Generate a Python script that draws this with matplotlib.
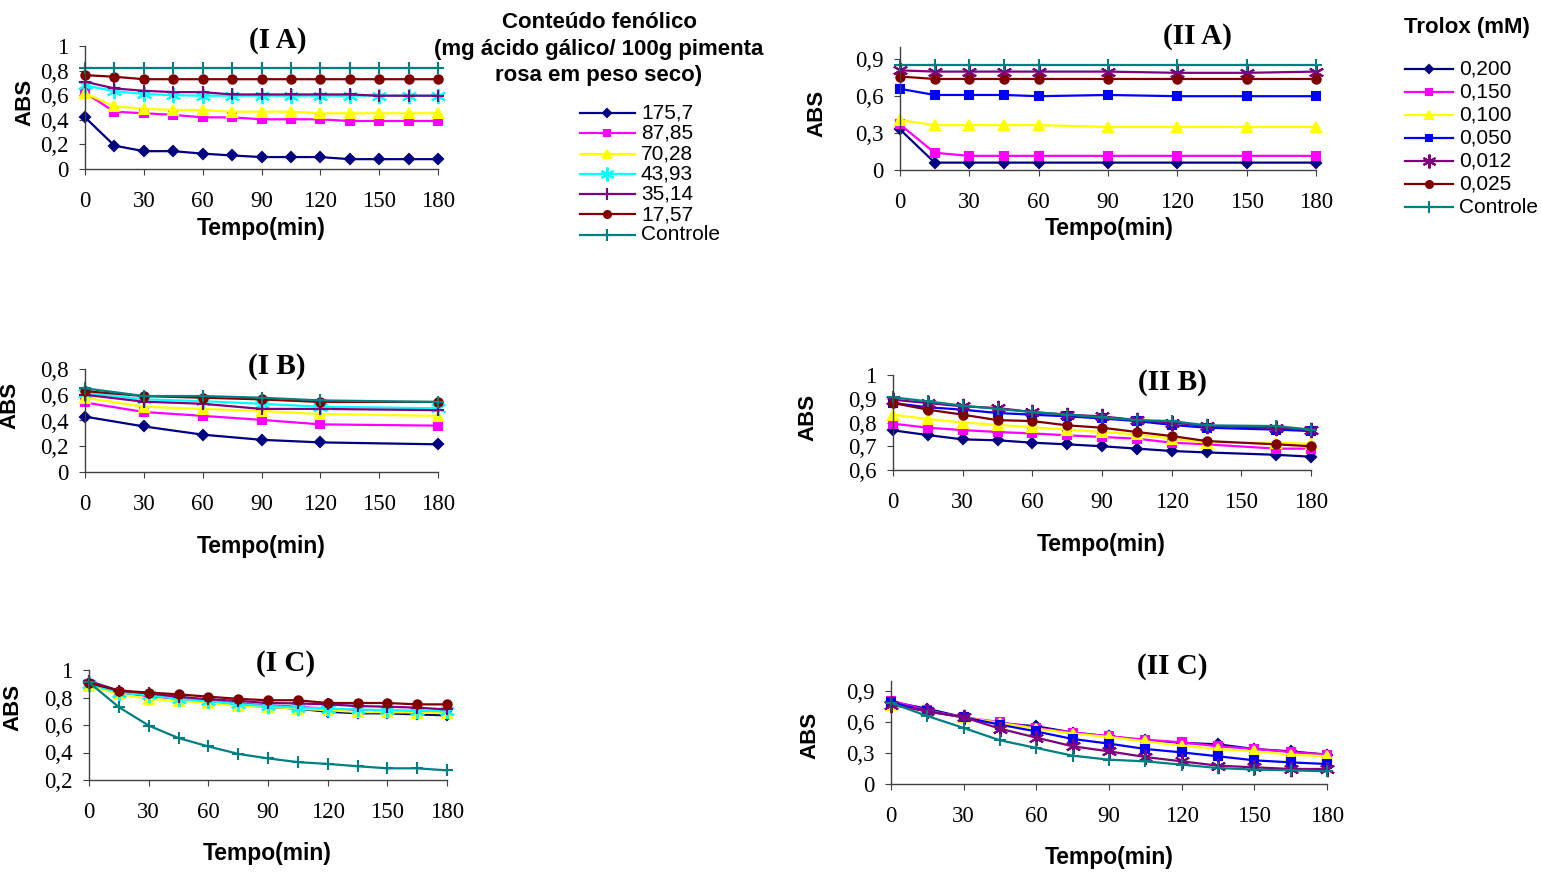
import matplotlib
matplotlib.use('Agg')
import matplotlib.pyplot as plt

W, H = 1541, 872

# cores e marcadores (padrao Excel)
navy, magenta, yellow, cyan = '#000080', '#FF00FF', '#FFFF00', '#00FFFF'
purple, darkred, teal, blue = '#800080', '#800000', '#008080', '#0000FF'
asterisk = (6, 2, 0)

labels_I = ['175,7', '87,85', '70,28', '43,93', '35,14', '17,57', 'Controle']
colors_I = [navy, magenta, yellow, cyan, purple, darkred, teal]
markers_I = ['D', 's', '^', asterisk, '+', 'o', '+']

labels_II = ['0,200', '0,150', '0,100', '0,050', '0,012', '0,025', 'Controle']
colors_II = [navy, magenta, yellow, blue, purple, darkred, teal]
markers_II = ['D', 's', '^', 's', asterisk, 'o', '+']

# ---- dados ----
t_IA = [0, 15, 30, 45, 60, 75, 90, 105, 120, 135, 150, 165, 180]
IA = [
    [0.42, 0.19, 0.145, 0.145, 0.125, 0.11, 0.097, 0.097, 0.097, 0.08, 0.08, 0.08, 0.08],
    [0.62, 0.466, 0.453, 0.44, 0.42, 0.42, 0.404, 0.404, 0.404, 0.39, 0.39, 0.39, 0.39],
    [0.615, 0.51, 0.49, 0.48, 0.48, 0.466, 0.466, 0.466, 0.453, 0.453, 0.453, 0.453, 0.453],
    [0.68, 0.633, 0.61, 0.60, 0.596, 0.596, 0.596, 0.596, 0.596, 0.596, 0.596, 0.596, 0.596],
    [0.71, 0.655, 0.636, 0.625, 0.625, 0.606, 0.606, 0.606, 0.606, 0.606, 0.596, 0.596, 0.596],
    [0.763, 0.75, 0.73, 0.73, 0.73, 0.73, 0.73, 0.73, 0.73, 0.73, 0.73, 0.73, 0.73],
    [0.82, 0.82, 0.82, 0.82, 0.82, 0.82, 0.82, 0.82, 0.82, 0.82, 0.82, 0.82, 0.82],
]

t_IB = [0, 30, 60, 90, 120, 180]
IB = [
    [0.43, 0.354, 0.29, 0.25, 0.23, 0.215],
    [0.54, 0.466, 0.436, 0.405, 0.37, 0.36],
    [0.577, 0.507, 0.49, 0.474, 0.45, 0.436],
    [0.615, 0.565, 0.55, 0.53, 0.507, 0.495],
    [0.60, 0.546, 0.53, 0.49, 0.49, 0.48],
    [0.628, 0.59, 0.577, 0.564, 0.544, 0.544],
    [0.65, 0.59, 0.59, 0.577, 0.556, 0.544],
]

t_IC = [0, 15, 30, 45, 60, 75, 90, 105, 120, 135, 150, 165, 180]
IC = [
    [0.905, 0.84, 0.816, 0.79, 0.766, 0.743, 0.733, 0.718, 0.697, 0.685, 0.685, 0.677, 0.67],
    [0.897, 0.836, 0.81, 0.79, 0.775, 0.757, 0.743, 0.733, 0.718, 0.708, 0.705, 0.694, 0.69],
    [0.885, 0.823, 0.79, 0.775, 0.76, 0.738, 0.733, 0.718, 0.708, 0.694, 0.694, 0.69, 0.685],
    [0.897, 0.836, 0.816, 0.79, 0.775, 0.75, 0.738, 0.726, 0.72, 0.713, 0.708, 0.705, 0.70],
    [0.92, 0.85, 0.83, 0.805, 0.787, 0.775, 0.76, 0.757, 0.75, 0.738, 0.733, 0.726, 0.713],
    [0.905, 0.85, 0.836, 0.823, 0.806, 0.79, 0.78, 0.78, 0.76, 0.76, 0.76, 0.75, 0.75],
    [0.91, 0.73, 0.596, 0.505, 0.444, 0.39, 0.357, 0.33, 0.317, 0.30, 0.285, 0.285, 0.27],
]

t_IIA = [0, 15, 30, 45, 60, 90, 120, 150, 180]
IIA = [
    [0.33, 0.06, 0.06, 0.06, 0.06, 0.06, 0.06, 0.06, 0.06],
    [0.37, 0.14, 0.115, 0.115, 0.115, 0.115, 0.115, 0.115, 0.115],
    [0.405, 0.365, 0.365, 0.365, 0.365, 0.35, 0.35, 0.35, 0.35],
    [0.66, 0.61, 0.61, 0.61, 0.60, 0.61, 0.60, 0.60, 0.60],
    [0.81, 0.80, 0.80, 0.80, 0.80, 0.80, 0.79, 0.79, 0.80],
    [0.76, 0.74, 0.74, 0.74, 0.74, 0.74, 0.74, 0.74, 0.74],
    [0.85, 0.85, 0.85, 0.85, 0.85, 0.85, 0.85, 0.85, 0.85],
]

t_IIB = [0, 15, 30, 45, 60, 75, 90, 105, 120, 135, 165, 180]
IIB = [
    [0.767, 0.747, 0.729, 0.725, 0.715, 0.708, 0.70, 0.69, 0.68, 0.674, 0.664, 0.656],
    [0.795, 0.778, 0.768, 0.76, 0.754, 0.746, 0.739, 0.732, 0.715, 0.708, 0.69, 0.69],
    [0.833, 0.815, 0.80, 0.79, 0.78, 0.77, 0.76, 0.75, 0.732, 0.715, 0.715, 0.71],
    [0.882, 0.864, 0.854, 0.84, 0.833, 0.826, 0.817, 0.806, 0.79, 0.778, 0.77, 0.764],
    [0.896, 0.882, 0.868, 0.861, 0.844, 0.833, 0.826, 0.81, 0.80, 0.785, 0.778, 0.768],
    [0.882, 0.854, 0.833, 0.81, 0.806, 0.788, 0.778, 0.76, 0.743, 0.722, 0.708, 0.70],
    [0.906, 0.889, 0.871, 0.857, 0.844, 0.833, 0.822, 0.81, 0.806, 0.788, 0.785, 0.77],
]

t_IIC = [0, 15, 30, 45, 60, 75, 90, 105, 120, 135, 150, 165, 180]
IIC = [
    [0.80, 0.73, 0.648, 0.59, 0.56, 0.50, 0.463, 0.424, 0.40, 0.385, 0.34, 0.317, 0.285],
    [0.81, 0.715, 0.648, 0.60, 0.544, 0.50, 0.463, 0.43, 0.405, 0.366, 0.34, 0.31, 0.285],
    [0.77, 0.706, 0.648, 0.592, 0.537, 0.49, 0.456, 0.414, 0.372, 0.34, 0.317, 0.285, 0.27],
    [0.793, 0.706, 0.648, 0.576, 0.51, 0.437, 0.392, 0.34, 0.307, 0.269, 0.23, 0.21, 0.194],
    [0.77, 0.704, 0.648, 0.537, 0.45, 0.366, 0.317, 0.262, 0.22, 0.178, 0.162, 0.146, 0.146],
    None,
    [0.787, 0.66, 0.544, 0.424, 0.35, 0.275, 0.236, 0.22, 0.188, 0.155, 0.14, 0.133, 0.123],
]

plt.rcParams['font.family'] = 'Liberation Serif'
fig = plt.figure(figsize=(W / 100, H / 100), dpi=100)


def fx(x):
    return x / W


def fy(y):
    return 1 - y / H


def marker_size(m):
    if m == asterisk:
        return 11
    if m == '+':
        return 9
    if m in ('s', 'o'):
        return 6
    if m == 'D':
        return 5.5
    return 7


# camada de fundo para as legendas
lg = fig.add_axes([0, 0, 1, 1])
lg.set_xlim(0, W)
lg.set_ylim(H, 0)
lg.axis('off')


def painel(box, t, series, colors, markers, ylim, yticks, ylabels, title, title_xy, abs_xy, tempo_xy):
    left, top, right, bottom = box
    ax = fig.add_axes([fx(left), fy(bottom), fx(right - left), (bottom - top) / H])
    for s, c, m in zip(series, colors, markers):
        if s is None:
            continue
        ax.plot(t, s, color=c, lw=1.6, marker=m, ms=marker_size(m),
                mec=c, mfc=c, mew=1.5, clip_on=False)
    ax.set_xlim(0, 180)
    ax.set_ylim(*ylim)
    ax.set_xticks(range(0, 181, 30))
    ax.set_yticks(yticks)
    ax.set_yticklabels(ylabels)
    for sp in ['top', 'right']:
        ax.spines[sp].set_visible(False)
    for sp in ['left', 'bottom']:
        ax.spines[sp].set_color('#404040')
        ax.spines[sp].set_linewidth(1.0)
    ax.patch.set_visible(False)
    ax.tick_params(axis='x', length=4, pad=12, labelsize=16.5, color='#404040')
    ax.tick_params(axis='y', length=4, pad=8, labelsize=16.5, color='#404040')
    fig.text(fx(title_xy[0]), fy(title_xy[1]), title, ha='center', va='center',
             fontsize=21, fontweight='bold')
    fig.text(fx(abs_xy[0]), fy(abs_xy[1]), 'ABS', ha='center', va='center', rotation=90,
             fontsize=16, fontweight='bold', family='Liberation Sans')
    fig.text(fx(tempo_xy[0]), fy(tempo_xy[1]), 'Tempo(min)', ha='center', va='center',
             fontsize=16.5, fontweight='bold', family='Liberation Sans')
    return ax


yl_1 = ['0', '0,2', '0,4', '0,6', '0,8', '1']
yl_03 = ['0', '0,3', '0,6', '0,9']

painel((85, 46, 438, 169), t_IA, IA, colors_I, markers_I, (0, 1),
       [0, 0.2, 0.4, 0.6, 0.8, 1], yl_1, '(I A)', (278, 41), (25, 102), (261, 228))
painel((85, 369, 438, 472), t_IB, IB, colors_I, markers_I, (0, 0.8),
       [0, 0.2, 0.4, 0.6, 0.8], yl_1[:5], '(I B)', (277, 366), (10, 405), (261, 546))
painel((89, 670, 447, 780), t_IC, IC, colors_I, markers_I, (0.2, 1),
       [0.2, 0.4, 0.6, 0.8, 1], yl_1[1:], '(I C)', (286, 663), (13, 707), (267, 853))
painel((900, 47, 1316, 170), t_IIA, IIA, colors_II, markers_II, (0, 1),
       [0, 0.3, 0.6, 0.9], yl_03, '(II A)', (1197, 37), (817, 113), (1109, 228))
painel((893, 375, 1311, 470), t_IIB, IIB, colors_II, markers_II, (0.6, 1),
       [0.6, 0.7, 0.8, 0.9, 1], ['0,6', '0,7', '0,8', '0,9', '1'], '(II B)', (1172, 382), (808, 417), (1101, 544))
painel((891, 681, 1327, 784), t_IIC, IIC, colors_II, markers_II, (0, 1),
       [0, 0.3, 0.6, 0.9], yl_03, '(II C)', (1172, 666), (810, 735), (1109, 857))


# legendas desenhadas ao lado
def legenda(x0, x1, xt, y0, dy, labels, colors, markers):
    for i, (lab, c, m) in enumerate(zip(labels, colors, markers)):
        y = y0 + i * dy
        lg.plot([x0, x1], [y, y], color=c, lw=1.6)
        lg.plot([(x0 + x1) / 2], [y], color=c, marker=m, ms=marker_size(m) - 1,
                mec=c, mfc=c, mew=1.5)
        lg.text(xt, y, lab, ha='left', va='center', fontsize=15, family='Liberation Sans')


fig.text(fx(599), fy(49), 'Conteúdo fenólico\n(mg ácido gálico/ 100g pimenta\nrosa em peso seco)',
         ha='center', va='center', fontsize=16, fontweight='bold', family='Liberation Sans',
         linespacing=1.35)
legenda(580, 635, 641, 113, 20.3, labels_I, colors_I, markers_I)

fig.text(fx(1467), fy(27), 'Trolox (mM)', ha='center', va='center', fontsize=16,
         fontweight='bold', family='Liberation Sans')
legenda(1405, 1453, 1459, 69, 23, labels_II, colors_II, markers_II)

fig.savefig('out.png', dpi=100)
